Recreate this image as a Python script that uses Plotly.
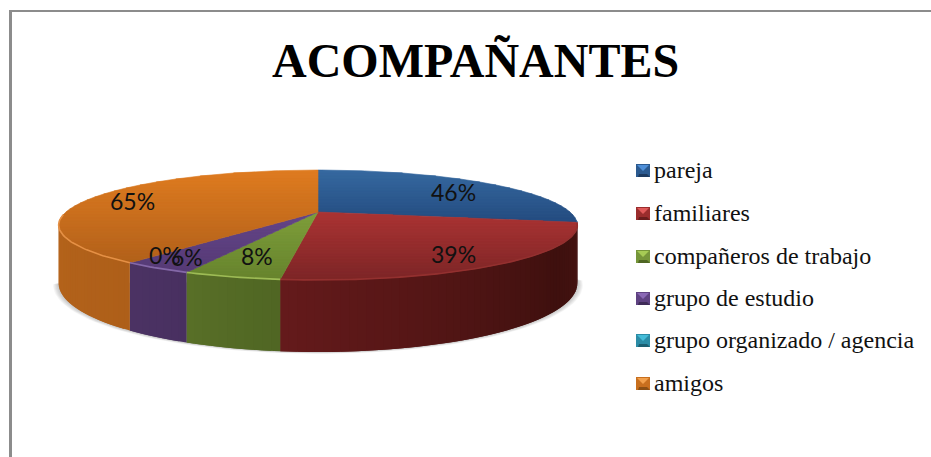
import math
import plotly.graph_objects as go

# ---- data ----
categories = ["pareja", "familiares", "compañeros de trabajo", "grupo de estudio",
              "grupo organizado / agencia", "amigos"]
values = [46, 39, 8, 6, 0, 65]
title_text = "ACOMPAÑANTES"

# ---- style ----
top_first = ["#35689f", "#aa3333", "#7e9e3a", "#644488", "#2f9ab5", "#de7b20"]
top_last = ["#234b7f", "#7c2526", "#66832d", "#553a75", "#22788f", "#b1601a"]
rim_light = ["#35689f", "#93302f", "#9dbb55", "#8468a8", "#2f9ab5", "#e59045"]
side_left = ["#1f3f68", "#641a1b", "#586f27", "#4b3263", "#1f6a7e", "#b4631b"]
side_right = ["#1f3f68", "#461311", "#4f6523", "#483060", "#1f6a7e", "#ae5f19"]
key_mid = ["#2b5a90", "#9a2d2d", "#76963a", "#5f4282", "#2b8ca6", "#c86f1e"]
key_light = ["#4f8fd8", "#e05a5a", "#a6cb55", "#8a68b5", "#45bcd8", "#f2a04c"]
key_dark = ["#1c3a60", "#6a1d1d", "#4f6623", "#3f2b58", "#1b5f72", "#8b4f14"]
label_pos = [(453, 192), (453, 254), (257, 256), (187, 257), (165, 255), (132, 201)]
legend_y = [172, 215, 258, 300, 342, 385]
key_y = [171, 214, 257, 299, 341, 384]

CX, CY, A, B, P, DEPTH = 318, 212, 252, 51.9, 0.2364, 55
SERIF = "Liberation Serif"


def rim(theta_deg, drop=False):
    t = math.radians(theta_deg)
    u, v = math.sin(t), math.cos(t)
    w = 1 + P * v
    return CX + A * u / w, CY - B * v / w + (DEPTH / w if drop else 0)


def hex_mix(c1, c2, t):
    a = [int(c1[i:i + 2], 16) for i in (1, 3, 5)]
    b = [int(c2[i:i + 2], 16) for i in (1, 3, 5)]
    return "rgb(%d,%d,%d)" % tuple(round(x + (y - x) * t) for x, y in zip(a, b))


def clip(poly, y_limit, keep_below):
    out = []
    for i, p in enumerate(poly):
        q = poly[(i + 1) % len(poly)]
        pin = p[1] >= y_limit if keep_below else p[1] <= y_limit
        qin = q[1] >= y_limit if keep_below else q[1] <= y_limit
        if pin:
            out.append(p)
        if pin != qin:
            s = (y_limit - p[1]) / (q[1] - p[1])
            out.append((p[0] + s * (q[0] - p[0]), y_limit))
    return out


def arc(a, b, step=1.0, drop=False):
    n = max(1, int(abs(b - a) / step))
    return [rim(a + (b - a) * i / n, drop) for i in range(n + 1)]


def poly_trace(pts, color, line=True):
    xs = [p[0] for p in pts] + [pts[0][0]]
    ys = [p[1] for p in pts] + [pts[0][1]]
    return go.Scatter(x=xs, y=ys, mode="lines", fill="toself", fillcolor=color,
                      line=dict(color=color, width=0.6 if line else 0),
                      hoverinfo="skip", showlegend=False)


fig = go.Figure()
total = sum(values)
angles = [0]
for val in values:
    angles.append(angles[-1] + 360 * val / total)

SIDE_A, SIDE_B = 100, 257

# soft shadow below the drum
for i in range(1, 7):
    pts = []
    for x, y in arc(SIDE_A, SIDE_B, 2, drop=True):
        pts.append((CX + (x - CX) * (1 + i * 0.0035), y + i * 0.3))
    fig.add_trace(go.Scatter(x=[p[0] for p in pts] + [pts[0][0]],
                             y=[p[1] for p in pts] + [pts[0][1]],
                             mode="lines", fill="toself",
                             fillcolor="rgba(90,90,90,0.06)", line=dict(width=0),
                             hoverinfo="skip", showlegend=False))

# side wall: each strip runs under the next one so no seams show
for k in range(len(values)):
    a, b = max(angles[k], SIDE_A), min(angles[k + 1], SIDE_B)
    if b <= a:
        continue
    n = max(1, int((b - a) / 1.5))
    for i in range(n):
        t0 = a + (b - a) * i / n
        t1 = min(b, a + (b - a) * (i + 2) / n)
        frac = (i + 1) / n
        shade = hex_mix(side_right[k], side_left[k], frac)
        if k == 1:  # darkest at the lower right of the drum
            shade = hex_mix("#3e100e", side_left[k], (frac - 0.3) / 0.7) if frac > 0.3 \
                else hex_mix(side_right[k], "#3e100e", frac / 0.3)
        pts = [rim(t0), rim(t1), rim(t1, True), rim(t0, True)]
        fig.add_trace(go.Scatter(x=[p[0] for p in pts] + [pts[0][0]],
                                 y=[p[1] for p in pts] + [pts[0][1]],
                                 mode="lines", fill="toself", fillcolor=shade, line=dict(width=0),
                                 hoverinfo="skip", showlegend=False))

# top face with vertical gradient
BAND = 3
for k in range(len(values)):
    if values[k] == 0:
        continue
    poly = [(CX, CY)] + arc(angles[k], angles[k + 1])
    ymin = min(p[1] for p in poly)
    ymax = max(p[1] for p in poly)
    y = ymin
    while y < ymax:
        piece = clip(clip(poly, y, True), y + BAND, False)
        if len(piece) >= 3:
            fig.add_trace(poly_trace(piece, hex_mix(top_first[k], top_last[k],
                                                    (y - ymin) / max(1, ymax - ymin))))
        y += BAND

# bevel along the front rim
for k in range(len(values)):
    a, b = max(angles[k], SIDE_A), min(angles[k + 1], SIDE_B + 10)
    if b <= a:
        continue
    pts = arc(a, b, 1)
    fig.add_trace(go.Scatter(x=[p[0] for p in pts], y=[p[1] for p in pts], mode="lines",
                             line=dict(color=rim_light[k], width=1.6),
                             hoverinfo="skip", showlegend=False))

# legend keys and labels
for k, name in enumerate(categories):
    y = key_y[k]
    x0, x1, y0, y1 = 636, 650, y - 7, y + 6
    fig.add_trace(poly_trace([(x0, y0), (x1, y0), (x1, y1), (x0, y1)], key_mid[k], False))
    fig.add_trace(poly_trace([(x0 + 2, y1), (x1 - 2, y1), (x1, y1 + 0), (x1 - 3, y1 - 3), (x0 + 3, y1 - 3)],
                             key_dark[k], False))
    fig.add_trace(poly_trace([(x0 + 1, y0 + 1), (x1 - 1, y0 + 1), ((x0 + x1) / 2, y0 + 7)], key_light[k], False))
    fig.add_trace(go.Scatter(x=[654], y=[legend_y[k]], mode="text", text=[name], textposition="middle right",
                             textfont=dict(family=SERIF, size=24, color="#111111"),
                             hoverinfo="skip", showlegend=False))

# percentage labels
label_text = [f"{val}%" for val in values]
for (lx, ly), txt in zip(label_pos, label_text):
    fig.add_annotation(x=lx, y=ly, text=txt, showarrow=False, xref="x", yref="y",
                       font=dict(family="Lato", size=23, color="#111111"))

fig.add_annotation(x=475.5, y=60, text=f"<b>{title_text}</b>", showarrow=False, xref="x", yref="y",
                   font=dict(family=SERIF, size=48, color="#000000"))

# frame at top and left
fig.add_shape(type="line", x0=10.5, x1=10.5, y0=10, y1=457, line=dict(color="#8c8c8c", width=3), layer="below")
fig.add_shape(type="line", x0=9, x1=931, y0=11, y1=11, line=dict(color="#8c8c8c", width=2), layer="below")

fig.update_layout(width=931, height=457, margin=dict(l=0, r=0, t=0, b=0), autosize=False,
                  paper_bgcolor="#ffffff", plot_bgcolor="#ffffff", showlegend=False,
                  xaxis=dict(range=[0, 931], visible=False, fixedrange=True),
                  yaxis=dict(range=[457, 0], visible=False, fixedrange=True))
fig.write_html("out.html", config={"displayModeBar": False},
               post_script="document.body.style.margin='0';document.body.style.overflow='hidden';")
